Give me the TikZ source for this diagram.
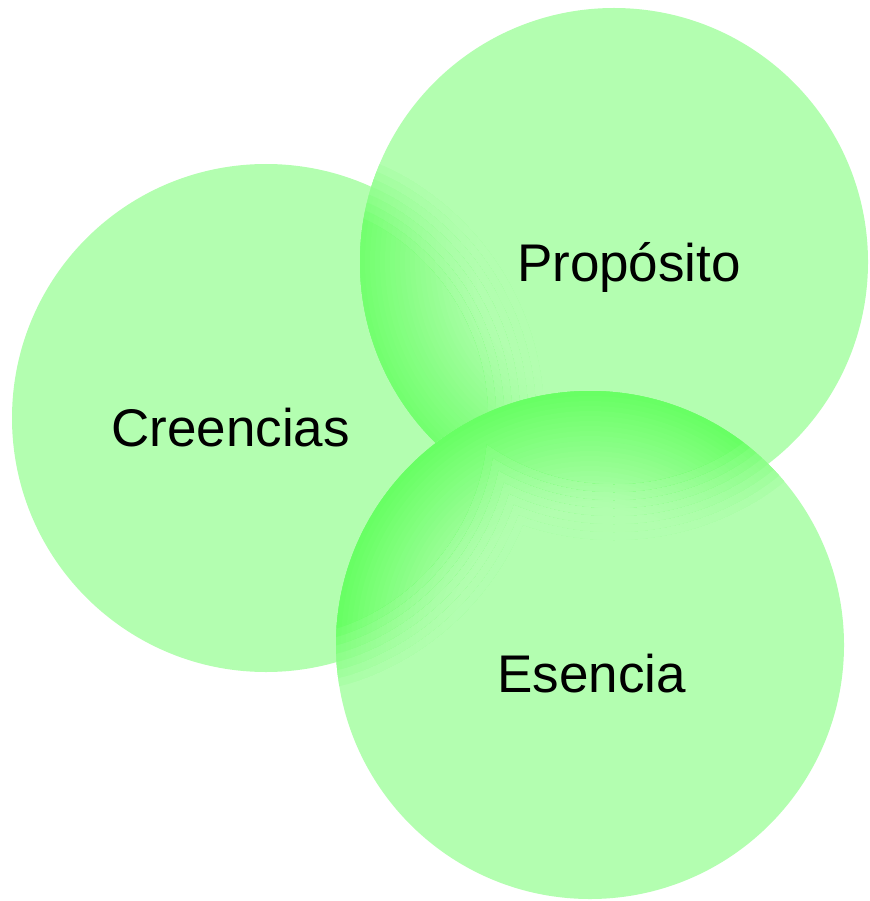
\documentclass[tikz,border=0pt]{standalone}
\usepackage{fontspec}
\setmainfont{Liberation Sans}
\definecolor{vennbase}{RGB}{179,254,176}
\definecolor{venndeep}{RGB}{104,255,100}
% glow of circle #1 over the region #2 (drawn with \cliprad),
% deep at the rim of #1, fading inwards and across the edge of #2
\newcommand{\glowover}[3]{%
    \foreach \k in {0,...,7} {
        \pgfmathsetmacro\cliprad{278-8*\k}
        \begin{scope}
            \clip #2;
            \foreach \m in {0,...,23} {
                \pgfmathsetmacro\ringrad{254-5*\m}
                \pgfmathsetmacro\ringmix{#3*(1-\m/24)*(\k+1)/8}
                \fill[venndeep!\ringmix!vennbase] (#1) circle (\ringrad pt);
            }
        \end{scope}
    }%
}
\begin{document}
\begin{tikzpicture}[x=1pt, y=-1pt, every node/.style={font=\fontsize{53}{60}\selectfont, anchor=base}]
    % Radius of the circles
    \def\rad{254pt}
    \useasboundingbox (0,0) rectangle (869,901);

    % Centres of the circles
    \coordinate (creencias) at (266,418);
    \coordinate (proposito) at (614,262);
    \coordinate (esencia) at (590,645);

    % Creencias (bottom layer)
    \fill[vennbase] (creencias) circle (\rad);

    % Proposito, glowing where it lies over Creencias
    \fill[vennbase] (proposito) circle (\rad);
    \glowover{proposito}{(creencias) circle (\cliprad pt)}{85}

    % Esencia, glowing where it lies over the other two
    \fill[vennbase] (esencia) circle (\rad);
    \glowover{esencia}{(creencias) circle (\cliprad pt) (proposito) circle (\cliprad pt)}{100}

    % Labels
    \node (lblcreencias) at (230.5,446) {Creencias};
    \node (lblproposito) at (629,281) {Propósito};
    \node (lblesencia) at (591.5,692) {Esencia};
\end{tikzpicture}
\end{document}
